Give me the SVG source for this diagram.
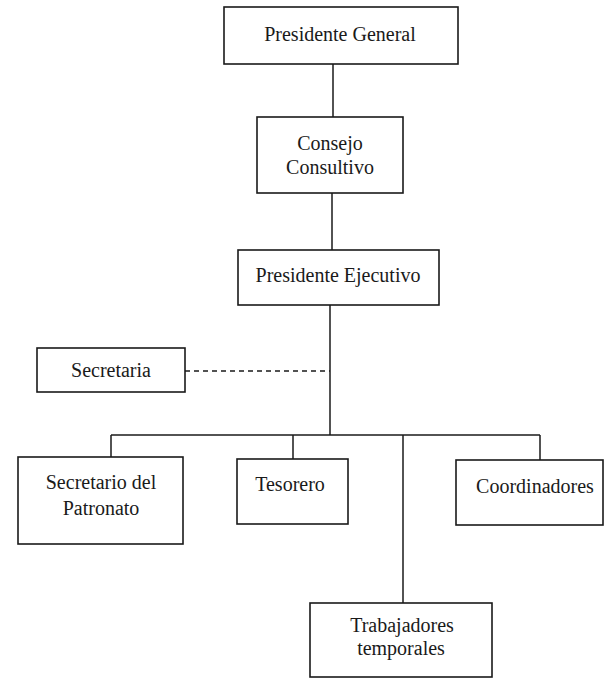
<svg xmlns="http://www.w3.org/2000/svg" width="605" height="679" viewBox="0 0 605 679">
<style>
.box{fill:none;stroke:#1a1a1a;stroke-width:1.6}
.lbl{font-family:"Liberation Serif","Times New Roman",serif;font-size:20px;fill:#1a1a1a;text-anchor:middle}
.ln{stroke:#1a1a1a;stroke-width:1.5;fill:none}
.dash{stroke:#1a1a1a;stroke-width:1.3;fill:none;stroke-dasharray:5 4}
</style>
<rect width="605" height="679" fill="#ffffff"/>
<g id="connectors">
<line class="ln" x1="333" y1="64" x2="333" y2="117"/>
<line class="ln" x1="332" y1="193" x2="332" y2="250"/>
<line class="ln" x1="330" y1="305" x2="330" y2="435"/>
<line class="dash" x1="185" y1="371" x2="330" y2="371"/>
<line class="ln" x1="111" y1="435" x2="540" y2="435"/>
<line class="ln" x1="111" y1="435" x2="111" y2="457"/>
<line class="ln" x1="293" y1="435" x2="293" y2="459"/>
<line class="ln" x1="540" y1="435" x2="540" y2="460"/>
<line class="ln" x1="403" y1="435" x2="403" y2="603"/>
</g>
<g id="presidente-general">
<rect class="box" x="224" y="7" width="234" height="57"/>
<text class="lbl" x="340" y="41">Presidente General</text>
</g>
<g id="consejo-consultivo">
<rect class="box" x="257" y="117" width="146" height="76"/>
<text class="lbl" x="330" y="150">Consejo</text>
<text class="lbl" x="330" y="174">Consultivo</text>
</g>
<g id="presidente-ejecutivo">
<rect class="box" x="238" y="250" width="201" height="55"/>
<text class="lbl" x="338" y="282">Presidente Ejecutivo</text>
</g>
<g id="secretaria">
<rect class="box" x="37" y="348" width="148" height="44"/>
<text class="lbl" x="111" y="377">Secretaria</text>
</g>
<g id="secretario-patronato">
<rect class="box" x="18" y="457" width="165" height="87"/>
<text class="lbl" x="101" y="489">Secretario del</text>
<text class="lbl" x="101" y="515">Patronato</text>
</g>
<g id="tesorero">
<rect class="box" x="237" y="459" width="111" height="65"/>
<text class="lbl" x="290" y="491">Tesorero</text>
</g>
<g id="coordinadores">
<rect class="box" x="456" y="460" width="147" height="65"/>
<text class="lbl" x="535" y="493">Coordinadores</text>
</g>
<g id="trabajadores-temporales">
<rect class="box" x="310" y="603" width="182" height="74"/>
<text class="lbl" x="402" y="632">Trabajadores</text>
<text class="lbl" x="401" y="655">temporales</text>
</g>
</svg>
